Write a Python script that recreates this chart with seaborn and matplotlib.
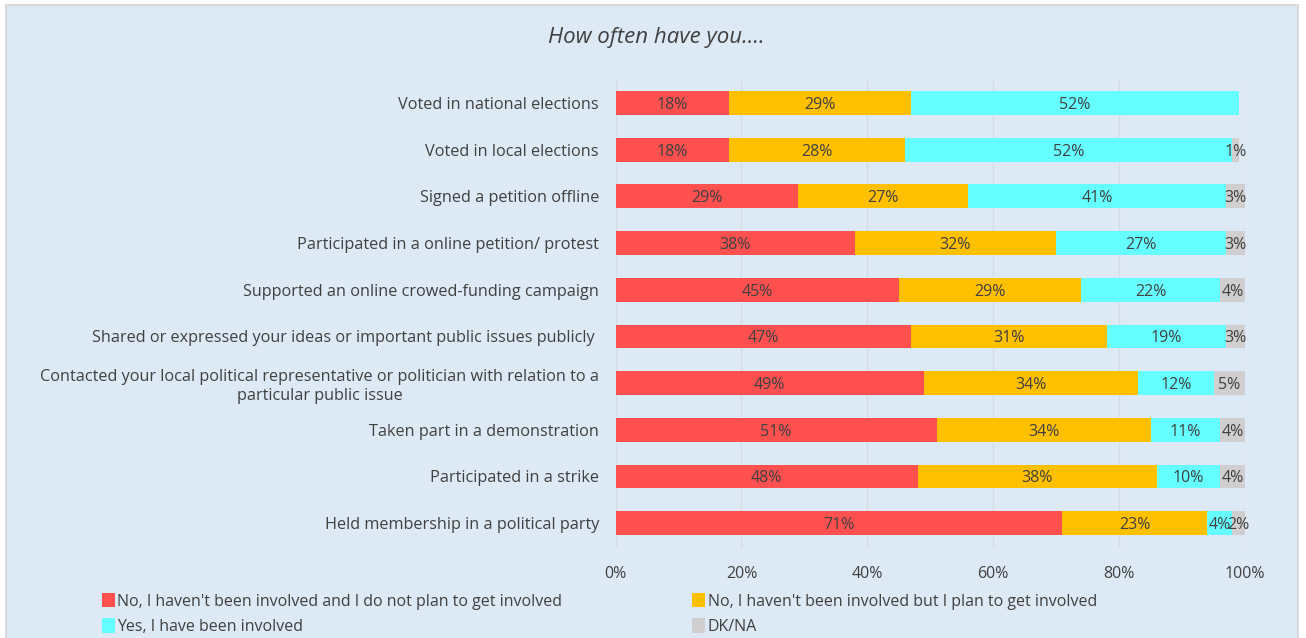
import numpy as np
import pandas as pd
import matplotlib
matplotlib.use("Agg")
import matplotlib.pyplot as plt
import seaborn as sns
from matplotlib.patches import Patch, Rectangle

# Data (percent)
items = [
    "Voted in national elections",
    "Voted in local elections",
    "Signed a petition offline",
    "Participated in a online petition/ protest",
    "Supported an online crowed-funding campaign",
    "Shared or expressed your ideas or important public issues publicly ",
    "Contacted your local political representative or politician with relation to a\nparticular public issue",
    "Taken part in a demonstration",
    "Participated in a strike",
    "Held membership in a political party",
]
no_no_plan = [18, 18, 29, 38, 45, 47, 49, 51, 48, 71]
no_plan = [29, 28, 27, 32, 29, 31, 34, 34, 38, 23]
yes_involved = [52, 52, 41, 27, 22, 19, 12, 11, 10, 4]
dk_na = [0, 1, 3, 3, 4, 3, 5, 4, 4, 2]

series_names = [
    "No, I haven't been involved and I do not plan to get involved",
    "No, I haven't been involved but I plan to get involved",
    "Yes, I have been involved",
    "DK/NA",
]
colors = ["#FF5050", "#FFC000", "#66FFFF", "#D0CECE"]
x_ticks = [0, 20, 40, 60, 80, 100]

BG = "#DDE9F5"
TXT = "#404040"

sns.set_theme(style="white")
plt.rcParams["font.family"] = ["Open Sans", "DejaVu Sans"]

df = pd.DataFrame({
    "item": items,
    "s1": no_no_plan,
    "s2": no_plan,
    "s3": yes_involved,
    "s4": dk_na,
})
cols = ["s1", "s2", "s3", "s4"]
cum = df[cols].cumsum(axis=1)

fig = plt.figure(figsize=(13.06, 6.38), dpi=100)
fig.patch.set_facecolor("white")
fig.patches.append(Rectangle((6 / 1306, -0.05), 1292 / 1306, 1.05 - 5 / 638,
                             transform=fig.transFigure, facecolor=BG,
                             edgecolor="#D9D9D9", linewidth=1.5, zorder=-10))

ax = fig.add_axes([615.6 / 1306, 1 - 546.5 / 638, 629.4 / 1306, 466.8 / 638])
ax.set_facecolor(BG)
ax.patch.set_alpha(0)

# overlay cumulative bars, longest first
for i in range(3, -1, -1):
    sns.barplot(x=cum[cols[i]], y=df["item"], orient="y", color=colors[i],
                width=0.51, saturation=1, ax=ax, zorder=3, linewidth=0)

for r in range(len(items)):
    left = 0
    for i, c in enumerate(cols):
        v = df.loc[r, c]
        if v > 0:
            ax.text(left + v / 2, r + 0.04, f"{v}%", ha="center", va="center",
                    fontsize=11.5, color=TXT, zorder=5)
        left += v

ax.set_xlim(0, 100)
ax.set_xticks(x_ticks)
ax.set_xticklabels([f"{t}%" for t in x_ticks])
ax.set_xlabel("")
ax.set_ylabel("")
ax.grid(axis="x", color="#D3DBE5", linewidth=1, zorder=0)
ax.set_axisbelow(True)
for s in ax.spines.values():
    s.set_visible(False)
ax.tick_params(axis="x", length=0, pad=14, labelsize=11.5, labelcolor=TXT)
ax.tick_params(axis="y", length=0, pad=12, labelsize=11.7, labelcolor=TXT)
for lab in ax.get_yticklabels():
    lab.set_multialignment("center")

fig.text(656 / 1306, 1 - 37 / 638, "How often have you....", ha="center",
         va="center", fontsize=16, style="italic", color=TXT)

handles = [Patch(facecolor=colors[k], edgecolor="none") for k in [0, 2, 1, 3]]
labels = [series_names[k] for k in [0, 2, 1, 3]]
fig.legend(handles, labels, ncol=2, loc="upper left",
           bbox_to_anchor=(102 / 1306, 1 - 593 / 638), frameon=False,
           fontsize=11.5, labelcolor=TXT, handlelength=0.8, handleheight=1.0,
           handletextpad=0.15, columnspacing=8.15, labelspacing=0.55,
           borderaxespad=0, borderpad=0)

fig.savefig("out.png", dpi=100, facecolor=fig.get_facecolor())
